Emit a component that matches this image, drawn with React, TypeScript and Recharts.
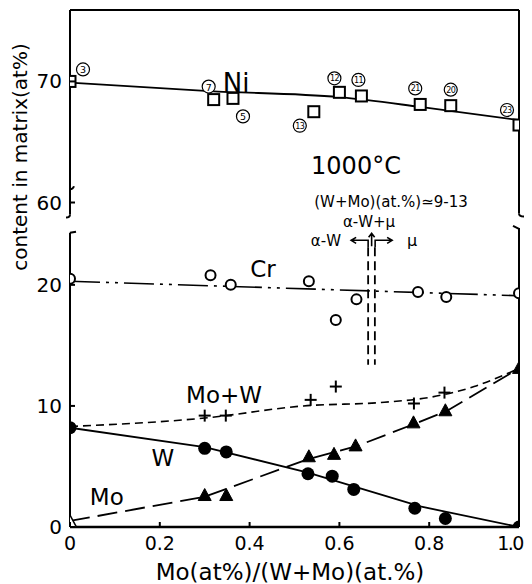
import React from 'react';
import {
  ComposedChart,
  XAxis,
  YAxis,
  Line,
  Scatter,
  ReferenceLine,
  ReferenceDot,
} from 'recharts';

const FONT = "'DejaVu Sans', sans-serif";

// ---- broken y axis: Ni values are shifted down into the upper band ----
const NI_SHIFT = 33.2;
const Y_TOP = 42.7;
const toPlot = (v: number) => (v >= 40 ? v - NI_SHIFT : v);
const fromPlot = (p: number) => (p >= 25 ? p + NI_SHIFT : p);

// ---- ticks ----
const X_TICKS = [0, 0.2, 0.4, 0.6, 0.8, 1.0];
const X_TICK_LABELS = ['0', '0.2', '0.4', '0.6', '0.8', '1.0'];
const Y_TICK_VALUES = [0, 10, 20, 60, 70];

// ---- Ni (open squares) ----
const NI_X = [0, 0.32, 0.363, 0.543, 0.6, 0.649, 0.78, 0.848, 1.0];
const NI = [70.0, 68.5, 68.6, 67.5, 69.1, 68.8, 68.1, 68.0, 66.4];
const NI_SAMPLE = [3, 7, 5, 13, 12, 11, 21, 20, 23];
const NI_FIT_X = [0, 0.31, 0.6, 0.78, 1.0];
const NI_FIT = [69.9, 69.2, 68.7, 67.9, 66.8];

// ---- Cr (open circles) ----
const CR_X = [0, 0.313, 0.358, 0.532, 0.592, 0.638, 0.775, 0.838, 1.0];
const CR = [20.5, 20.8, 20.0, 20.3, 17.1, 18.8, 19.4, 19.0, 19.3];
const CR_FIT_X = [0, 1.0];
const CR_FIT = [20.3, 19.1];

// ---- W (filled circles) ----
const W_X = [0, 0.3, 0.348, 0.53, 0.584, 0.632, 0.768, 0.836, 1.0];
const W = [8.2, 6.5, 6.2, 4.4, 4.2, 3.1, 1.55, 0.7, 0];
const W_FIT_X = [0, 0.3, 0.53, 0.78, 1.0];
const W_FIT = [8.2, 6.6, 4.5, 1.7, 0];

// ---- Mo (triangles; first one open) ----
const MO_X = [0, 0.3, 0.348, 0.532, 0.588, 0.636, 0.765, 0.836, 1.0];
const MO = [0.4, 2.6, 2.6, 5.8, 6.0, 6.7, 8.6, 9.6, 13.1];
const MO_FIT_X = [0, 0.3, 0.53, 0.64, 0.78, 0.84, 1.0];
const MO_FIT = [0.5, 2.5, 5.6, 6.7, 8.7, 9.6, 13.1];

// ---- Mo+W (plus signs) ----
const MOW_X = [0.3, 0.347, 0.536, 0.592, 0.766, 0.834];
const MOW = [9.2, 9.2, 10.5, 11.6, 10.2, 11.1];
const MOW_FIT_X = [0, 0.3, 0.52, 0.7, 0.8, 0.9, 1.0];
const MOW_FIT = [8.3, 9.0, 10.0, 10.3, 10.7, 11.6, 13.1];

// label placement for the circled sample numbers (style only)
const SAMPLE_LABEL_OFFSET: [number, number][] = [
  [13, -12], [-5, -13], [10, 18], [-14, 14], [-5, -14], [-3, -16], [-5, -16], [0, -16], [-12, -15],
];

const rows = (xs: number[], ys: number[]) => xs.map((x, i) => ({ x, y: toPlot(ys[i]), i }));

const NI_ROWS = rows(NI_X, NI);
const NI_FIT_ROWS = rows(NI_FIT_X, NI_FIT);
const CR_ROWS = rows(CR_X, CR);
const CR_FIT_ROWS = rows(CR_FIT_X, CR_FIT);
const W_ROWS = rows(W_X, W);
const W_FIT_ROWS = rows(W_FIT_X, W_FIT);
const MO_ROWS = rows(MO_X, MO);
const MO_FIT_ROWS = rows(MO_FIT_X, MO_FIT);
const MOW_ROWS = rows(MOW_X, MOW);
const MOW_FIT_ROWS = rows(MOW_FIT_X, MOW_FIT);

// ---- marker shapes ----
const NiShape = (p: any) => {
  const { cx, cy, payload } = p;
  const i = payload.i;
  const [dx, dy] = SAMPLE_LABEL_OFFSET[i];
  const n = NI_SAMPLE[i];
  return (
    <g>
      <rect x={cx - 5.5} y={cy - 5.5} width={11} height={11} fill="#fff" stroke="#000" strokeWidth={2} />
      <circle cx={cx + dx} cy={cy + dy} r={6.5} fill="#fff" stroke="#000" strokeWidth={1.2} />
      <text
        x={cx + dx}
        y={cy + dy + 0.5}
        textAnchor="middle"
        dominantBaseline="central"
        fontSize={n >= 10 ? 8 : 9.5}
        fontFamily={FONT}
        letterSpacing={n >= 10 ? -0.6 : 0}
      >
        {n}
      </text>
    </g>
  );
};

const CircleOpen = (p: any) => (
  <circle cx={p.cx} cy={p.cy} r={5} fill="#fff" stroke="#000" strokeWidth={2} />
);
const CircleFilled = (p: any) => <circle cx={p.cx} cy={p.cy} r={6.5} fill="#000" />;
const Triangle = (p: any) => {
  const { cx, cy, payload } = p;
  const open = payload.i === 0;
  return (
    <polygon
      points={`${cx},${cy - 7} ${cx - 6.5},${cy + 5} ${cx + 6.5},${cy + 5}`}
      fill={open ? '#fff' : '#000'}
      stroke="#000"
      strokeWidth={open ? 1.5 : 1}
    />
  );
};
const Plus = (p: any) => (
  <g stroke="#000" strokeWidth={2}>
    <line x1={p.cx - 6} y1={p.cy} x2={p.cx + 6} y2={p.cy} />
    <line x1={p.cx} y1={p.cy - 6} x2={p.cx} y2={p.cy + 6} />
  </g>
);

// ---- ticks ----
const YTick = (p: any) => {
  const { x, y, payload } = p;
  const label = Math.round(fromPlot(payload.value));
  return (
    <g>
      <line x1={x} y1={y} x2={x + 5} y2={y} stroke="#000" strokeWidth={2} />
      <text x={x - 8} y={y} textAnchor="end" dominantBaseline="central" fontSize={20} fontFamily={FONT} fill="#000">
        {label}
      </text>
    </g>
  );
};
const XTick = (p: any) => {
  const { x, y, payload, index } = p;
  const last = index === X_TICKS.length - 1;
  return (
    <g>
      <line x1={x} y1={y} x2={x} y2={y - 5} stroke="#000" strokeWidth={2} />
      <text
        x={last ? x - 9 : x}
        y={y + 16}
        textAnchor="middle"
        dominantBaseline="central"
        fontSize={19}
        fontFamily={FONT}
        letterSpacing={last ? -1.5 : 0}
        fill="#000"
      >
        {X_TICK_LABELS[index] ?? String(payload.value)}
      </text>
    </g>
  );
};

const note = (key: string, x: number, y: number, text: string, size: number) => (
  <ReferenceDot
    key={key}
    x={x}
    y={y}
    r={0}
    ifOverflow="visible"
    shape={(p: any) => (
      <text x={p.cx} y={p.cy} textAnchor="middle" dominantBaseline="central" fontSize={size} fontFamily={FONT} fill="#000">
        {text}
      </text>
    )}
  />
);

const deco = (key: string, x: number, y: number, d: string, width = 2) => (
  <ReferenceDot
    key={key}
    x={x}
    y={y}
    r={0}
    ifOverflow="visible"
    shape={(p: any) => (
      <path d={d} transform={`translate(${p.cx},${p.cy})`} fill="none" stroke="#000" strokeWidth={width} />
    )}
  />
);

const seg = (key: string, x1: number, y1: number, x2: number, y2: number, width = 2, dash?: string) => (
  <ReferenceLine
    key={key}
    segment={[{ x: x1, y: y1 }, { x: x2, y: y2 }]}
    stroke="#000"
    strokeWidth={width}
    strokeDasharray={dash}
    ifOverflow="visible"
  />
);

export default function App() {
  return (
    <div style={{ width: 524, height: 576, position: 'relative' }}>
      <ComposedChart width={524} height={576} margin={{ top: 2, right: 13, left: 0, bottom: 0 }}>
        <XAxis
          type="number"
          dataKey="x"
          domain={[0, 1]}
          ticks={X_TICKS}
          allowDataOverflow
          height={57}
          tickSize={0}
          tickMargin={0}
          tickLine={false}
          axisLine={{ stroke: '#000', strokeWidth: 2.5 }}
          tick={<XTick />}
          interval={0}
        />
        <YAxis
          type="number"
          dataKey="y"
          domain={[0, Y_TOP]}
          ticks={Y_TICK_VALUES.map(toPlot)}
          allowDataOverflow
          width={62}
          tickSize={0}
          tickMargin={0}
          tickLine={false}
          axisLine={false}
          tick={<YTick />}
          interval={0}
        />

        {/* frame with axis breaks */}
        {seg('top', 0, Y_TOP, 1, Y_TOP)}
        {seg('l1', 0, Y_TOP, 0, 25.8)}
        {seg('l2', 0, 24.3, 0, 0)}
        {seg('r1', 1, Y_TOP, 1, 25.9)}
        {seg('r2', 1, 24.7, 1, 0)}
        {deco('lb1', 0, 25.8, 'M0 0 Q0 3 -4 3')}
        {deco('lb0', 0, 27.9, 'M0 0 Q3 0 4 -3')}
        {deco('lb2', 0, 24.3, 'M0 0 L6 -1')}
        {deco('rb1', 1, 25.9, 'M0 0 Q0 3 5 3')}
        {deco('rb2', 1, 24.7, 'M0 1 L-6 -2')}

        {/* fitted curves */}
        <Line data={NI_FIT_ROWS} dataKey="y" type="monotone" stroke="#000" strokeWidth={1.8} dot={false} isAnimationActive={false} />
        <Line data={CR_FIT_ROWS} dataKey="y" type="linear" stroke="#000" strokeWidth={1.6} strokeDasharray="30 6 3 6 3 6" dot={false} isAnimationActive={false} />
        <Line data={W_FIT_ROWS} dataKey="y" type="linear" stroke="#000" strokeWidth={1.8} dot={false} isAnimationActive={false} />
        <Line data={MO_FIT_ROWS} dataKey="y" type="linear" stroke="#000" strokeWidth={1.8} strokeDasharray="20 8" dot={false} isAnimationActive={false} />
        <Line data={MOW_FIT_ROWS} dataKey="y" type="monotone" stroke="#000" strokeWidth={1.6} strokeDasharray="8 5" dot={false} isAnimationActive={false} />

        {/* phase boundary annotation */}
        {seg('d1', 0.664, 23.1, 0.664, 13.4, 1.8, '9 5')}
        {seg('d2', 0.679, 23.1, 0.679, 13.4, 1.8, '9 5')}
        {deco(
          'arrows',
          0.664,
          23.1,
          'M0 0 L0 -7 L-17 -7 M-12 -10 L-17 -7 L-12 -4 M3.5 -1 L3.5 -14 M0.5 -10 L3.5 -14 L6.5 -10 M7 0 L7 -7 L24 -7 M19 -10 L24 -7 L19 -4',
          1.6
        )}

        {/* markers */}
        <Scatter data={NI_ROWS} dataKey="y" shape={NiShape} isAnimationActive={false} />
        <Scatter data={CR_ROWS} dataKey="y" shape={CircleOpen} isAnimationActive={false} />
        <Scatter data={MOW_ROWS} dataKey="y" shape={Plus} isAnimationActive={false} />
        <Scatter data={MO_ROWS} dataKey="y" shape={Triangle} isAnimationActive={false} />
        <Scatter data={W_ROWS} dataKey="y" shape={CircleFilled} isAnimationActive={false} />

        {/* text annotations */}
        {note('ni', 0.37, 36.7, 'Ni', 26)}
        {note('temp', 0.637, 29.83, '1000°C', 24)}
        {note('cond', 0.715, 26.86, '(W+Mo)(at.%)≃9-13', 15)}
        {note('awm', 0.666, 25.2, 'α-W+μ', 15)}
        {note('aw', 0.57, 23.64, 'α-W', 15)}
        {note('mu', 0.762, 23.64, 'μ', 16)}
        {note('cr', 0.43, 21.3, 'Cr', 23)}
        {note('mow', 0.343, 10.9, 'Mo+W', 23)}
        {note('w', 0.207, 5.7, 'W', 23)}
        {note('mo', 0.082, 2.48, 'Mo', 23)}
      </ComposedChart>
      <svg width={524} height={576} style={{ position: 'absolute', left: 0, top: 0, pointerEvents: 'none' }}>
        <text
          x={12}
          y={149}
          transform="rotate(-90 12 149)"
          textAnchor="middle"
          dominantBaseline="central"
          fontSize={20}
          fontFamily={FONT}
          fill="#000"
        >
          content in matrix(at%)
        </text>
        <text x={282} y={564} textAnchor="middle" dominantBaseline="central" fontSize={23} fontFamily={FONT} fill="#000">
          Mo(at%)/(W+Mo)(at.%)
        </text>
      </svg>
    </div>
  );
}
